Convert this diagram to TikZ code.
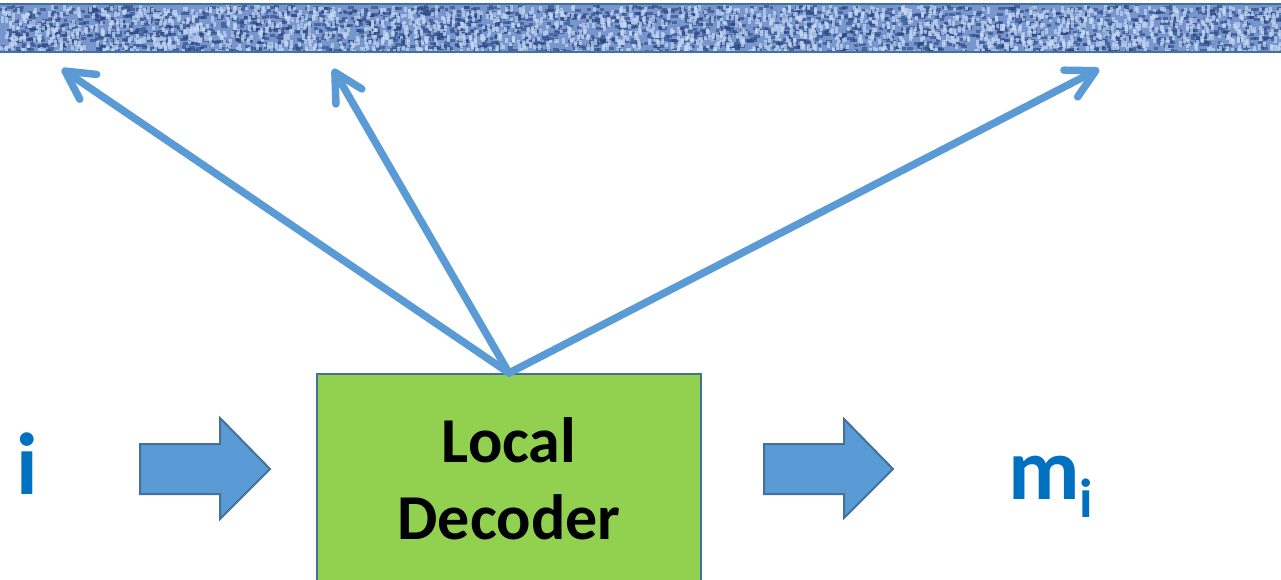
\documentclass[tikz,border=0pt]{standalone}
\usepackage{fontspec}
\setmainfont{Carlito}
\usetikzlibrary{arrows.meta}

\definecolor{edgeblue}{HTML}{41719C}
\definecolor{arrowblue}{HTML}{5B9BD5}
\definecolor{boxgreen}{HTML}{92D050}
\definecolor{labelblue}{HTML}{0070C0}
\definecolor{barmid}{HTML}{7896CE}
\definecolor{bardark}{HTML}{2A4680}
\definecolor{barlight}{HTML}{C9DAF5}

\tikzset{
  outline/.style={draw=edgeblue, line width=2pt},
  decoderbox/.style={outline, fill=boxgreen, minimum width=384pt, minimum height=210pt,
    inner sep=0pt, align=center, font=\fontsize{64}{77}\selectfont\bfseries},
  blockarrow/.style={outline, fill=arrowblue, line join=miter},
  probe/.style={draw=arrowblue, line width=7.5pt, line cap=round,
    -{Straight Barb[length=28pt, width=30pt, round]}},
  sym/.style={text=labelblue, inner sep=0pt, font=\fontsize{88}{88}\selectfont\bfseries},
}

\begin{document}
\begin{tikzpicture}[x=1pt, y=-1pt]
\useasboundingbox (0,0) rectangle (1281,580);

% codeword strip with a woven texture
\fill[barmid] (0,4) rectangle (1281,52);
\begin{scope}
  \clip (0,5) rectangle (1281,51);
  \pgfmathsetseed{11}
  \foreach \k in {1,...,2200}{
    \pgfmathsetmacro{\px}{rnd*1281}
    \pgfmathsetmacro{\py}{5+rnd*46}
    \fill[bardark, opacity=0.6] (\px,\py) rectangle ++(3+rnd*4, 3);
  }
  \foreach \k in {1,...,2000}{
    \pgfmathsetmacro{\px}{rnd*1281}
    \pgfmathsetmacro{\py}{5+rnd*46}
    \fill[barlight, opacity=0.65] (\px,\py) rectangle ++(3, 3+rnd*4);
  }
\end{scope}
\draw[edgeblue, line width=2.5pt] (-2,4) rectangle (1283,52);

% decoder block
\node[decoderbox, anchor=north] (dec) at (509,373) {Local\\Decoder};

% query positions on the strip
\coordinate (q1) at (62,69);
\coordinate (q2) at (333,69);
\coordinate (q3) at (1099,69);
\draw[probe] (dec.north) -- (q1);
\draw[probe] (dec.north) -- (q2);
\draw[probe] (dec.north) -- (q3);

% input index and block arrow into the decoder
\node[sym, anchor=base] (idx) at (27,494) {i};
\draw[blockarrow] (140,444) -- (220,444) -- (220,418) -- (270,469)
  -- (220,519) -- (220,494) -- (140,494) -- cycle;

% block arrow out of the decoder and recovered symbol
\draw[blockarrow] (764,444) -- (844,444) -- (844,419) -- (893,469)
  -- (844,518) -- (844,494) -- (764,494) -- cycle;
\node[sym, anchor=base west] (msg) at (1008,499)
  {m\raisebox{-18pt}{\fontsize{55}{55}\selectfont i}};
\end{tikzpicture}
\end{document}
